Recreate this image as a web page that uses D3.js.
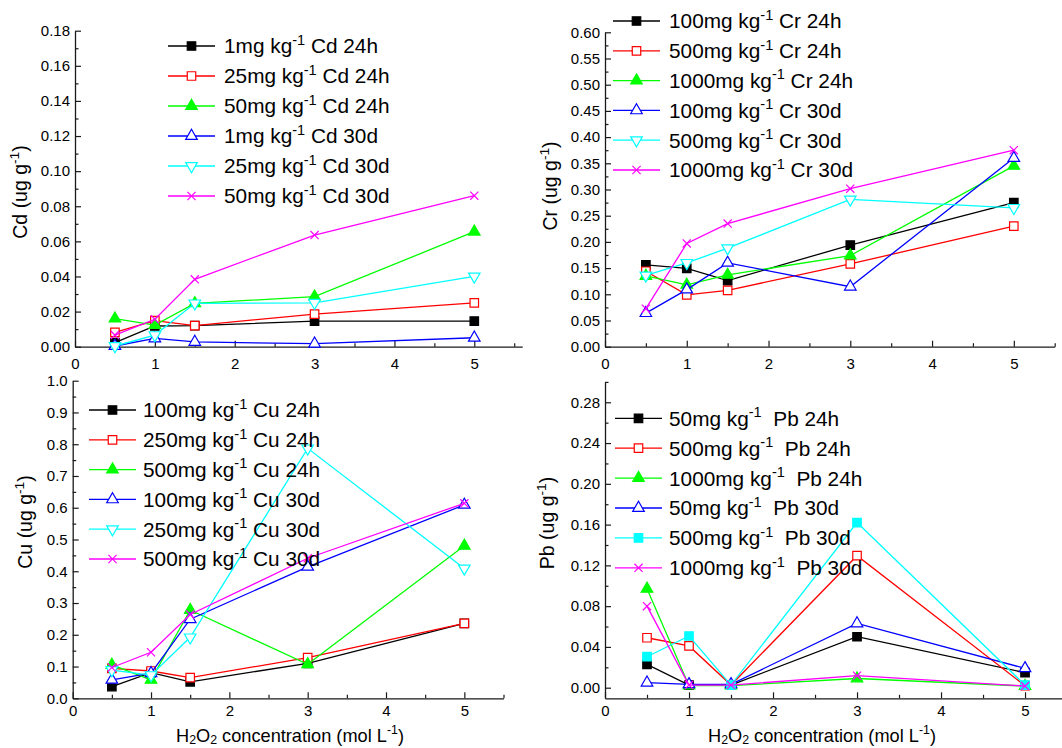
<!DOCTYPE html>
<html>
<head>
<meta charset="utf-8">
<script src="https://cdn.jsdelivr.net/npm/d3@7"></script>
<style>
  body { margin: 0; background: #fff; }
  svg text { font-family: "Liberation Sans", Arial, sans-serif; fill: #000; }
</style>
</head>
<body>
<svg id="chart" width="1062" height="748"></svg>
<script>
// H2O2 concentrations (mol L-1)
const concentrations = [0.5, 1, 1.5, 3, 5];
const xTicks = [0, 1, 2, 3, 4, 5];
const seriesColors = ["#000000", "#ff0000", "#00ff00", "#0000ff", "#00ffff", "#ff00ff"];

const cdNames = ["1mg kg-1 Cd 24h", "25mg kg-1 Cd 24h", "50mg kg-1 Cd 24h",
                 "1mg kg-1 Cd 30d", "25mg kg-1 Cd 30d", "50mg kg-1 Cd 30d"];
const cdValues = [
    [0.0023, 0.0118, 0.012, 0.0146, 0.0146],
    [0.0082, 0.0148, 0.012, 0.0186, 0.025],
    [0.016, 0.0123, 0.0247, 0.0285, 0.0655],
    [0.0004, 0.0047, 0.0027, 0.0017, 0.0051],
    [0.0004, 0.0066, 0.0247, 0.025, 0.040],
    [0.0066, 0.0156, 0.0384, 0.0636, 0.086]
];
const cdTicks = [0, 0.02, 0.04, 0.06, 0.08, 0.10, 0.12, 0.14, 0.16, 0.18];

const crNames = ["100mg kg-1 Cr 24h", "500mg kg-1 Cr 24h", "1000mg kg-1 Cr 24h",
                 "100mg kg-1 Cr 30d", "500mg kg-1 Cr 30d", "1000mg kg-1 Cr 30d"];
const crValues = [
    [0.156, 0.1495, 0.126, 0.194, 0.275],
    [0.144, 0.099, 0.1075, 0.158, 0.230],
    [0.135, 0.118, 0.137, 0.174, 0.345],
    [0.064, 0.109, 0.160, 0.1145, 0.360],
    [0.136, 0.160, 0.188, 0.281, 0.265],
    [0.0725, 0.197, 0.235, 0.3015, 0.375]
];
const crTicks = [0, 0.05, 0.10, 0.15, 0.20, 0.25, 0.30, 0.35, 0.40, 0.45, 0.50, 0.55, 0.60];

const cuNames = ["100mg kg-1 Cu 24h", "250mg kg-1 Cu 24h", "500mg kg-1 Cu 24h",
                 "100mg kg-1 Cu 30d", "250mg kg-1 Cu 30d", "500mg kg-1 Cu 30d"];
const cuValues = [
    [0.037, 0.081, 0.052, 0.110, 0.236],
    [0.094, 0.086, 0.065, 0.128, 0.236],
    [0.105, 0.058, 0.278, 0.107, 0.48],
    [0.058, 0.079, 0.249, 0.414, 0.609],
    [0.089, 0.073, 0.192, 0.787, 0.409],
    [0.097, 0.145, 0.264, 0.441, 0.614]
];
const cuTicks = [0, 0.1, 0.2, 0.3, 0.4, 0.5, 0.6, 0.7, 0.8, 0.9, 1.0];

const pbNames = ["50mg kg-1  Pb 24h", "500mg kg-1  Pb 24h", "1000mg kg-1  Pb 24h",
                 "50mg kg-1  Pb 30d", "500mg kg-1  Pb 30d", "1000mg kg-1  Pb 30d"];
const pbValues = [
    [0.0229, 0.0026, 0.0026, 0.050, 0.0147],
    [0.049, 0.041, 0.0026, 0.1295, 0.002],
    [0.097, 0.002, 0.002, 0.009, 0.0016],
    [0.0049, 0.0033, 0.0033, 0.063, 0.019],
    [0.0304, 0.0507, 0.0026, 0.162, 0.0026],
    [0.080, 0.0026, 0.0026, 0.0118, 0.0016]
];
const pbTicks = [0, 0.04, 0.08, 0.12, 0.16, 0.20, 0.24, 0.28];

const markersA = ["sq", "sqo", "tri", "trio", "tridn", "x"];
const markersPb = ["sq", "sqo", "tri", "trio", "sq", "x"];

const panels = [
    { el: "Cd", names: cdNames, values: cdValues, ticks: cdTicks, fmt: ".2f", markers: markersA,
      xr: [75, 522.2], xMax: 5.6, yr: [346.7, 30.7], yDom: [0, 0.18], pad: 12,
      yTitle: [20.5, 192], legend: { x1: 168, x2: 215, tx: 224, y0: 46, step: 30 }, xTitle: null },
    { el: "Cr", names: crNames, values: crValues, ticks: crTicks, fmt: ".2f", markers: markersA,
      xr: [605, 1054.7], xMax: 5.5, yr: [346.7, 32.3], yDom: [0, 0.60], pad: 12,
      yTitle: [550.5, 186], legend: { x1: 613, x2: 660, tx: 669, y0: 21, step: 29.8 }, xTitle: null },
    { el: "Cu", names: cuNames, values: cuValues, ticks: cuTicks, fmt: ".1f", markers: markersA,
      xr: [72.7, 503.5], xMax: 5.5, yr: [698.3, 380.7], yDom: [0, 1.0], pad: 7,
      yTitle: [25, 522], legend: { x1: 89, x2: 136, tx: 143, y0: 410, step: 29.8 }, xTitle: [290, 741.5] },
    { el: "Pb", names: pbNames, values: pbValues, ticks: pbTicks, fmt: ".2f", markers: markersPb,
      xr: [605, 1062], xMax: 5.44, yr: [698.3, 381.9], yDom: [-0.0104, 0.30], pad: 7,
      yTitle: [547.5, 523], legend: { x1: 615, x2: 662, tx: 669, y0: 418.3, step: 29.9 }, xTitle: [822, 741.5] }
];

const svg = d3.select("#chart");

function marker(g, type, color) {
    const sym = d3.symbol();
    let fill = "#fff", rot = 0;
    if (type === "sq" || type === "sqo") { sym.type(d3.symbolSquare).size(72); if (type === "sq") fill = color; }
    else if (type === "x") { sym.type(d3.symbolX).size(45); fill = "none"; }
    else { sym.type(d3.symbolTriangle).size(58); if (type === "tri") fill = color; if (type === "tridn") rot = 180; }
    return g.append("path")
        .attr("d", sym())
        .attr("transform", `rotate(${rot})`)
        .attr("fill", fill)
        .attr("stroke", color)
        .attr("stroke-width", 1.2);
}

// label with "kg-1" superscript
function labelText(t, str, size) {
    const i = str.indexOf("-1");
    t.append("tspan").text(str.slice(0, i));
    t.append("tspan").text("-1").attr("font-size", size * 0.7).attr("dy", -size * 0.42);
    t.append("tspan").text(str.slice(i + 2)).attr("dy", size * 0.42);
}

function styleAxis(g) {
    g.attr("font-size", 15).attr("font-family", null);
    g.select(".domain").attr("stroke", "#1a1a1a").attr("stroke-width", 1.3);
    g.selectAll(".tick line").attr("stroke", "#1a1a1a").attr("stroke-width", 1.2);
    g.selectAll(".tick text").attr("fill", "#000");
}

panels.forEach(p => {
    const x = d3.scaleLinear().domain([0, p.xMax]).range(p.xr);
    const y = d3.scaleLinear().domain(p.yDom).range(p.yr);
    const g = svg.append("g");

    // minor ticks
    const yStep = p.ticks[1] - p.ticks[0];
    const yMinor = p.ticks.map(v => v + yStep / 2).filter(v => v <= p.yDom[1] + 1e-9);
    const xMinor = xTicks.map(v => v + 0.5).filter(v => v <= p.xMax);

    g.append("g").attr("transform", `translate(${p.xr[0]},0)`)
        .call(d3.axisLeft(y).tickValues(yMinor).tickSize(-3.5).tickFormat(""))
        .call(a => { styleAxis(a); a.select(".domain").remove(); });
    g.append("g").attr("transform", `translate(0,${p.yr[0]})`)
        .call(d3.axisBottom(x).tickValues(xMinor).tickSize(-3.5).tickFormat(""))
        .call(a => { styleAxis(a); a.select(".domain").remove(); });

    g.append("g").attr("transform", `translate(${p.xr[0]},0)`)
        .call(d3.axisLeft(y).tickValues(p.ticks).tickSize(-6).tickSizeOuter(0)
            .tickPadding(5).tickFormat(d3.format(p.fmt)))
        .call(styleAxis);
    g.append("g").attr("transform", `translate(0,${p.yr[0]})`)
        .call(d3.axisBottom(x).tickValues(xTicks).tickSize(-6).tickSizeOuter(0)
            .tickPadding(p.pad).tickFormat(d3.format("d")))
        .call(styleAxis);

    // series
    const line = d3.line().x((d, i) => x(concentrations[i])).y(d => y(d));
    p.values.forEach((vals, si) => {
        const c = seriesColors[si];
        g.append("path").datum(vals)
            .attr("d", line)
            .attr("fill", "none")
            .attr("stroke", c)
            .attr("stroke-width", 1.3);
        vals.forEach((v, i) => {
            const m = g.append("g").attr("transform", `translate(${x(concentrations[i])},${y(v)})`);
            marker(m, p.markers[si], c);
        });
    });

    // legend
    const L = p.legend;
    p.names.forEach((name, si) => {
        const ly = L.y0 + si * L.step;
        const c = seriesColors[si];
        g.append("line").attr("x1", L.x1).attr("x2", L.x2).attr("y1", ly).attr("y2", ly)
            .attr("stroke", c).attr("stroke-width", 1.3);
        const m = g.append("g").attr("transform", `translate(${(L.x1 + L.x2) / 2},${ly})`);
        marker(m, p.markers[si], c);
        const t = g.append("text").attr("x", L.tx).attr("y", ly).attr("dy", "0.36em")
            .attr("font-size", 20.8).style("white-space", "pre");
        labelText(t, name, 20.8);
    });

    // y title
    const yt = g.append("text")
        .attr("transform", `translate(${p.yTitle[0]},${p.yTitle[1]}) rotate(-90)`)
        .attr("text-anchor", "middle").attr("dy", "0.35em").attr("font-size", 19.5);
    labelText(yt, p.el + " (ug g-1)", 19.5);

    // x title
    if (p.xTitle) {
        const s = 18.2;
        const xt = g.append("text").attr("x", p.xTitle[0]).attr("y", p.xTitle[1])
            .attr("text-anchor", "middle").attr("font-size", s);
        xt.append("tspan").text("H");
        xt.append("tspan").text("2").attr("font-size", s * 0.68).attr("dy", s * 0.15);
        xt.append("tspan").text("O").attr("dy", -s * 0.15);
        xt.append("tspan").text("2").attr("font-size", s * 0.68).attr("dy", s * 0.15);
        xt.append("tspan").text(" concentration (mol L").attr("dy", -s * 0.15);
        xt.append("tspan").text("-1").attr("font-size", s * 0.68).attr("dy", -s * 0.42);
        xt.append("tspan").text(")").attr("dy", s * 0.42);
    }
});
</script>
</body>
</html>
